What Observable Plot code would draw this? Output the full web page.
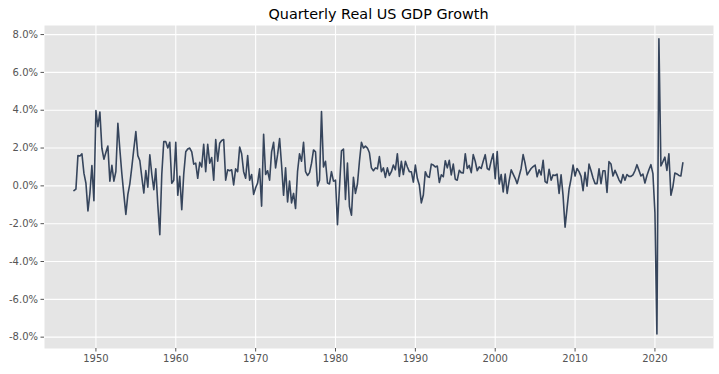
<!DOCTYPE html>
<html><head><meta charset="utf-8">
<script src="https://cdn.jsdelivr.net/npm/d3@7"></script>
<script src="https://cdn.jsdelivr.net/npm/@observablehq/plot@0.6"></script>
<style>body{margin:0;background:#fff;}</style>
</head><body><div id="chart"></div>
<script>
const title = "Quarterly Real US GDP Growth";
const firstQuarter = "1947-04-01"; // quarter of first value (1947 Q2)
// quarter-on-quarter real GDP growth, percent, 1947 Q2 .. 2023 Q3
const growthPct = [
  -0.25, -0.17, 1.60,            // 1947 Q2-Q4
  1.58, 1.69, 0.67, 0.14,        // 1948
  -1.32, -0.39, 1.07, -0.79,     // 1949
  3.98, 3.13, 3.90, 1.99,        // 1950
  1.41, 1.76, 2.11, 0.25,        // 1951
  1.09, 0.25, 0.76, 3.31,        // 1952
  1.90, 0.64, -0.45, -1.51,      // 1953
  -0.45, 0.11, 0.99, 1.96,       // 1954
  2.87, 1.60, 1.34, 0.46,        // 1955
  -0.38, 0.81, -0.07, 1.64,      // 1956
  0.60, -0.20, 0.90, -1.00,      // 1957
  -2.58, 0.60, 2.34, 2.34,       // 1958
  2.00, 2.30, 0.14, 0.30,        // 1959
  2.30, -0.50, 0.50, -1.26,      // 1960
  0.65, 1.80, 1.95, 2.00,        // 1961
  1.80, 1.15, 1.20, 0.40,        // 1962
  1.25, 1.00, 2.20, 0.75,        // 1963
  2.20, 1.20, 1.50, 0.30,        // 1964
  2.45, 1.30, 2.25, 2.40,        // 1965
  2.45, 0.30, 0.85, 0.80,        // 1966
  0.85, 0.05, 0.90, 0.75,        // 1967
  2.05, 1.70, 0.75, 0.40,        // 1968
  1.60, 0.30, 0.60, -0.45,       // 1969
  -0.10, 0.15, 0.90, -1.07,      // 1970
  2.73, 0.60, 0.80, 0.30,        // 1971
  1.80, 2.30, 0.95, 1.65,        // 1972
  2.50, 1.10, -0.50, 0.95,       // 1973
  -0.85, 0.25, -0.90, -0.40,     // 1974
  -1.20, 0.75, 1.70, 1.30,       // 1975
  2.30, 0.75, 0.55, 0.70,        // 1976
  1.20, 1.90, 1.80, 0.00,        // 1977
  0.30, 3.93, 1.00, 1.30,        // 1978
  0.15, 0.10, 0.75, 0.25,        // 1979
  0.30, -2.05, -0.10, 1.85,      // 1980
  1.95, -0.72, 1.20, -1.10,      // 1981
  -1.55, 0.45, -0.40, 0.10,      // 1982
  1.30, 2.30, 2.00, 2.10,        // 1983
  2.00, 1.75, 0.95, 0.80,        // 1984
  0.95, 0.90, 1.55, 0.75,        // 1985
  0.95, 0.45, 0.95, 0.55,        // 1986
  0.75, 1.10, 0.85, 1.70,        // 1987
  0.50, 1.30, 0.60, 1.30,        // 1988
  1.00, 0.75, 0.75, 0.20,        // 1989
  1.10, 0.40, 0.05, -0.90,       // 1990
  -0.48, 0.75, 0.50, 0.45,       // 1991
  1.15, 1.10, 1.00, 1.05,        // 1992
  0.18, 0.58, 0.48, 1.33,        // 1993
  0.95, 1.35, 0.58, 1.15,        // 1994
  0.35, 0.30, 0.82, 0.70,        // 1995
  0.68, 1.70, 0.92, 1.08,        // 1996
  0.70, 1.65, 1.30, 0.80,        // 1997
  1.00, 0.92, 1.30, 1.65,        // 1998
  0.92, 0.85, 1.32, 1.70,        // 1999
  0.38, 1.82, 0.10, 0.60,        // 2000
  -0.32, 0.62, -0.40, 0.28,      // 2001
  0.85, 0.62, 0.40, 0.12,        // 2002
  0.52, 0.92, 1.65, 1.18,        // 2003
  0.58, 0.75, 0.92, 1.02,        // 2004
  1.10, 0.48, 0.85, 0.58,        // 2005
  1.35, 0.22, 0.15, 0.88,        // 2006
  0.30, 0.58, 0.55, 0.62,        // 2007
  -0.40, 0.58, -0.52, -2.18,     // 2008
  -1.16, -0.18, 0.37, 1.10,      // 2009
  0.52, 0.92, 0.75, 0.50,        // 2010
  -0.25, 0.72, -0.02, 1.15,      // 2011
  0.80, 0.42, 0.12, 0.12,        // 2012
  0.90, 0.12, 0.80, 0.80,        // 2013
  -0.35, 1.28, 1.16, 0.52,       // 2014
  0.82, 0.58, 0.32, 0.15,        // 2015
  0.60, 0.30, 0.60, 0.50,        // 2016
  0.50, 0.58, 0.80, 1.12,        // 2017
  0.82, 0.52, 0.62, 0.15,        // 2018
  0.55, 0.85, 1.12, 0.65,        // 2019
  -1.40, -7.83, 7.78, 1.05,      // 2020
  1.28, 1.52, 0.82, 1.70,        // 2021
  -0.50, -0.05, 0.68, 0.63,      // 2022
  0.55, 0.52, 1.22               // 2023 Q1-Q3
];
const xTickYears = [1950, 1960, 1970, 1980, 1990, 2000, 2010, 2020];
const yTicks = [-8, -6, -4, -2, 0, 2, 4, 6, 8];

const data = growthPct.map((v, i) => ({
  date: d3.utcMonth.offset(new Date(firstQuarter + "T00:00:00Z"), 3 * i),
  value: v
}));
const xTickDates = xTickYears.map(y => new Date(Date.UTC(y, 0, 1)));
const fmtPct = v => v.toFixed(1) + "%";

const chart = Plot.plot({
  width: 719,
  height: 374,
  marginLeft: 44,
  marginRight: 6,
  marginTop: 25,
  marginBottom: 26,
  style: {fontFamily: "DejaVu Sans", fontSize: "10px", background: "white", color: "#555"},
  x: {type: "utc", domain: [new Date(Date.UTC(1943, 6, 25)), new Date(Date.UTC(2027, 4, 3))]},
  y: {domain: [-8.6, 8.48]},
  marks: [
    Plot.frame({fill: "#E5E5E5", stroke: "none"}),
    Plot.gridX(xTickDates, {stroke: "white", strokeOpacity: 1, strokeWidth: 1.1}),
    Plot.gridY(yTicks, {stroke: "white", strokeOpacity: 1, strokeWidth: 1.1}),
    Plot.lineY(data, {x: "date", y: "value", stroke: "#36455c", strokeWidth: 1.6}),
    Plot.axisX(xTickDates, {tickFormat: d3.utcFormat("%Y"), tickSize: 3.5, tickPadding: 3, stroke: "#555", fill: "#555", fontSize: 10, label: null}),
    Plot.axisY(yTicks, {tickFormat: fmtPct, tickSize: 3.5, tickPadding: 3, stroke: "#555", fill: "#555", fontSize: 10, label: null})
  ]
});

d3.select(chart).append("text")
  .attr("x", 378.5)
  .attr("y", 19)
  .attr("text-anchor", "middle")
  .attr("font-family", "DejaVu Sans")
  .attr("font-size", 14.4)
  .attr("fill", "#000")
  .text(title);

document.getElementById("chart").appendChild(chart);
</script>
</body></html>
